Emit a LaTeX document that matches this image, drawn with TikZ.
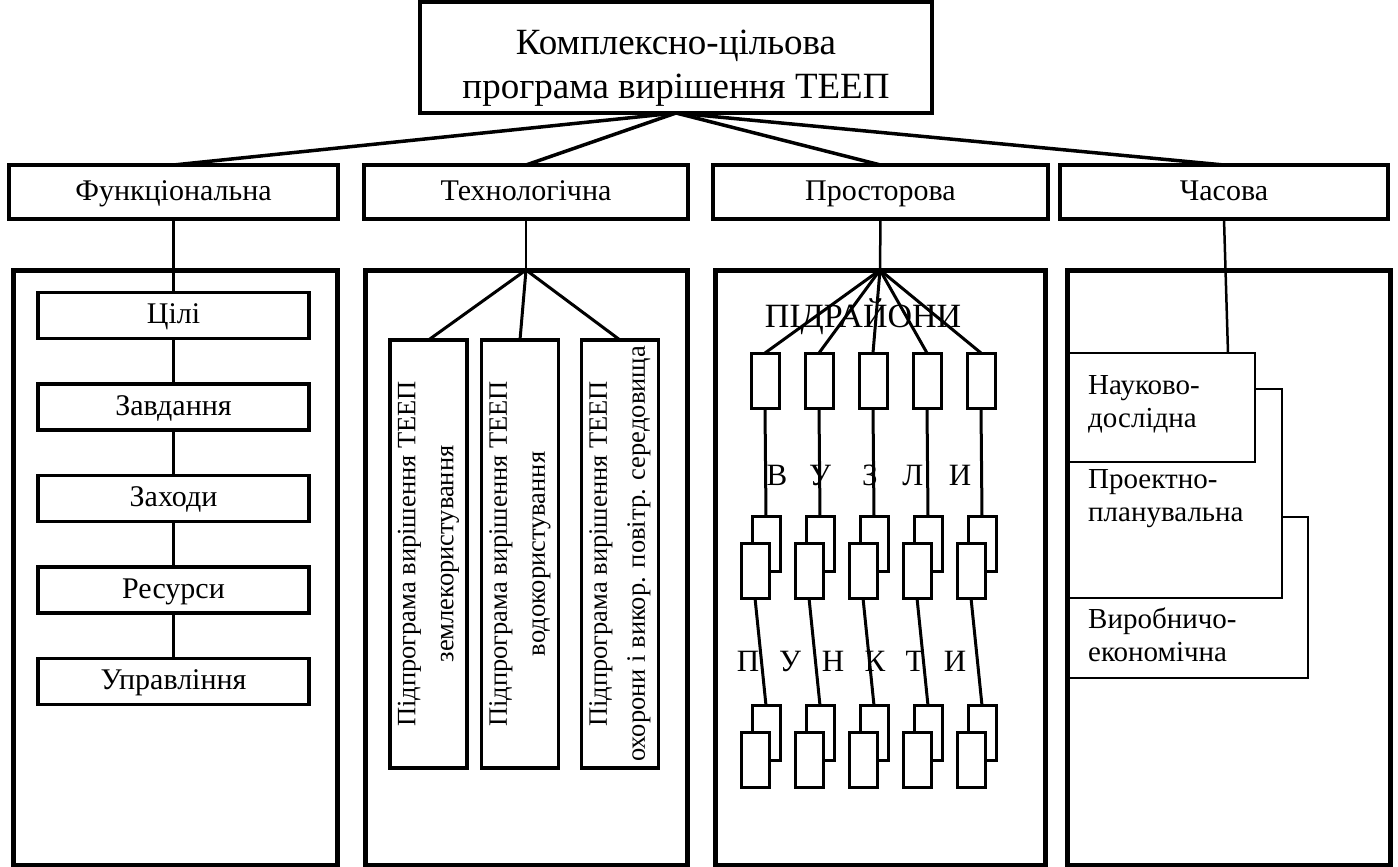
\documentclass[tikz,border=0pt]{standalone}
\usepackage{fontspec}
\setmainfont{Liberation Serif}
\usetikzlibrary{positioning}

\tikzset{
  mainbox/.style={draw, line width=4pt, inner sep=0pt, outer sep=0pt, minimum width=512pt, minimum height=111pt, align=center, text height=90pt, font=\fontsize{37}{44}\selectfont},
  kindbox/.style={draw, line width=4pt, inner sep=0pt, outer sep=0pt, minimum height=54pt, text height=20pt, text depth=4pt, font=\fontsize{30}{36}\selectfont},
  bigbox/.style={draw, line width=5pt, inner sep=0pt, outer sep=0pt, minimum height=595pt, anchor=north west},
  stagebox/.style={draw, line width=3.5pt, inner sep=0pt, outer sep=0pt, minimum width=271pt, minimum height=46pt, text height=20pt, text depth=4pt, font=\fontsize{30}{36}\selectfont},
  subbox/.style={draw, line width=3.5pt, inner sep=0pt, outer sep=0pt, rotate=90, minimum width=428pt, minimum height=77pt, align=center, font=\fontsize{26.5}{38}\selectfont},
  cellbox/.style={draw, fill=white, line width=3pt, inner sep=0pt, outer sep=0pt, minimum width=28pt, minimum height=55pt},
  phasebox/.style={draw, fill=white, line width=2.5pt, inner sep=0pt, outer sep=0pt, anchor=north west},
  phasetext/.style={anchor=west, align=left, inner sep=0pt, font=\fontsize{29}{33}\selectfont},
  letter/.style={inner sep=0pt, text height=20pt, text depth=4pt, font=\fontsize{31}{36}\selectfont},
  link/.style={line width=3pt},
  stem/.style={line width=2.5pt},
}

\begin{document}
\begin{tikzpicture}[x=1pt, y=-1pt]
\useasboundingbox (0,0) rectangle (1398,867);

% Top of the tree
\node[mainbox] (prog) at (676,57.5) {Комплексно-цільова\\програма вирішення ТЕЕП};

% Four kinds of structure
\node[kindbox, minimum width=329pt] (func) at (173.5,192) {Функціональна};
\node[kindbox, minimum width=324pt] (tech) at (526,192) {Технологічна};
\node[kindbox, minimum width=335pt] (space) at (880.5,192) {Просторова};
\node[kindbox, minimum width=328pt] (time) at (1224,192) {Часова};

\foreach \k in {func,tech,space,time}
  \draw[line width=3.5pt] (prog.south) -- (\k.north);

% Functional column
\node[bigbox, minimum width=324pt] (funcbig) at (13,270) {};
\node[stagebox] (goal) at (173.5,315.5) {Цілі};
\node[stagebox, below=45.5pt of goal] (task) {Завдання};
\node[stagebox, below=45.5pt of task] (act) {Заходи};
\node[stagebox, below=45.5pt of act] (res) {Ресурси};
\node[stagebox, below=45.5pt of res] (ctrl) {Управління};

\draw[stem] (func.south) -- (goal.north);
\foreach \a/\b in {goal/task, task/act, act/res, res/ctrl}
  \draw[link] (\a.south) -- (\b.north);

% Technological column
\node[bigbox, minimum width=322pt] (techbig) at (365,270) {};
\node[subbox] (sub1) at (428.5,554) {Підпрограма вирішення ТЕЕП\\землекористування};
\node[subbox] (sub2) at (520,554) {Підпрограма вирішення ТЕЕП\\водокористування};
\node[subbox] (sub3) at (620,554) {Підпрограма вирішення ТЕЕП\\охорони і викор. повітр. середовища};

\draw[stem] (tech.south) -- (techbig.north);
\foreach \k in {1,2,3}
  \draw[link] (techbig.north) -- (sub\k.east);

% Spatial column
\node[bigbox, minimum width=330pt] (spacebig) at (715,270) {};
\draw[stem] (space.south) -- (spacebig.north);
\node[inner sep=0pt, font=\fontsize{34}{40}\selectfont] (area) at (863,317) {ПІДРАЙОНИ};

\foreach \i in {0,...,4} {
  \node[cellbox] (r\i) at ({765+54*\i},380.5) {};
  \node[cellbox] (mb\i) at ({766+54*\i},543.5) {};
  \node[cellbox] (mf\i) at ({755+54*\i},570.5) {};
  \node[cellbox] (lb\i) at ({766+54*\i},733) {};
  \node[cellbox] (lf\i) at ({755+54*\i},760) {};
  \draw[link] (spacebig.north) -- (r\i.north);
  \draw[link] (r\i.south) -- (mb\i.north);
  \draw[link] (mf\i.south) -- (lb\i.north);
}

\foreach \ch/\x [count=\k] in {В/777, У/820, З/870, Л/913, И/960}
  \node[letter] (v\k) at (\x,477) {\ch};
\foreach \ch/\x [count=\k] in {П/748, У/790, Н/833, К/875, Т/915, И/955}
  \node[letter] (p\k) at (\x,663) {\ch};

% Time column
\node[phasebox, minimum width=241pt, minimum height=161pt] (prod) at (1067,517) {};
\node[phasebox, minimum width=215pt, minimum height=209pt] (proj) at (1067,389) {};
\node[phasebox, minimum width=188pt, minimum height=109pt] (sci) at (1067,353) {};
\node[phasetext] (sciL) at (1088,404) {Науково-\\дослідна};
\node[phasetext] (projL) at (1088,499) {Проектно-\\планувальна};
\node[phasetext] (prodL) at (1088,635) {Виробничо-\\економічна};
\node[bigbox, minimum width=323pt] (timebig) at (1067,270) {};

\draw[stem] (time.south) -- ([xshift=-27pt]sci.north east);
\end{tikzpicture}
\end{document}
